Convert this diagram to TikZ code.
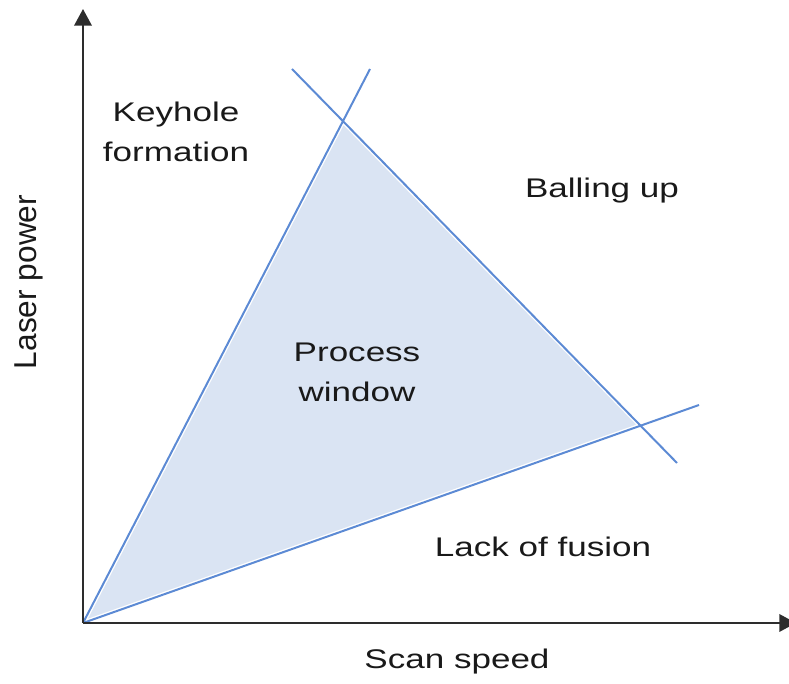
\documentclass[tikz,border=0pt]{standalone}
\usepackage{fontspec}
\setmainfont{Liberation Sans}
\usetikzlibrary{arrows.meta}

\definecolor{linecol}{RGB}{92,138,212}
\definecolor{fillcol}{RGB}{218,228,243}
\definecolor{axiscol}{RGB}{45,45,45}
\definecolor{txtcol}{RGB}{25,25,25}
\newcommand{\wide}[1]{\scalebox{1.3}[1]{#1}}

\begin{document}
\begin{tikzpicture}[x=0.03cm, y=0.03cm,
    axis/.style={draw=axiscol, line width=2.1pt, -{Triangle[length=0.5cm,width=0.52cm]}},
    bound/.style={draw=linecol, line width=1.7pt},
    lbl/.style={font=\fontsize{23}{34}\selectfont, text=txtcol, align=center, inner sep=0pt}]
    \useasboundingbox (0,0) rectangle (789,684);
    % corner points of the lines
    \coordinate (O) at (83,61);
    \coordinate (Atop) at (370,615);
    \coordinate (Btop) at (292,615);
    \coordinate (Bend) at (677,221);
    \coordinate (Cend) at (699,279);
    \coordinate (AB) at (intersection of O--Atop and Btop--Bend);
    \coordinate (BC) at (intersection of Btop--Bend and O--Cend);
    % process window
    \filldraw[fill=fillcol, draw=white, line width=4pt, line join=round] (O) -- (AB) -- (BC) -- cycle;
    \draw[bound] (O) -- (Atop);
    \draw[bound] (Btop) -- (Bend);
    \draw[bound] (O) -- (Cend);
    % axes
    \coordinate (Ytop) at (83,675);
    \coordinate (Xend) at (796,61);
    \draw[axis] (O) -- (Ytop);
    \draw[axis] (O) -- (Xend);
    % labels
    \node[lbl] (keyhole) at (176,552) {\wide{Keyhole}\\\wide{formation}};
    \node[lbl] (balling) at (602,493) {\wide{Balling up}};
    \node[lbl] (window) at (357,312) {\wide{Process}\\\wide{window}};
    \node[lbl, anchor=base] (fusion) at (543,127) {\wide{Lack of fusion}};
    \node[lbl, anchor=base] (xlabel) at (457,15) {\wide{Scan speed}};
    \node[lbl, font=\fontsize{27}{34}\selectfont, anchor=base, rotate=90] (ylabel) at (37,402) {Laser power};
\end{tikzpicture}
\end{document}
